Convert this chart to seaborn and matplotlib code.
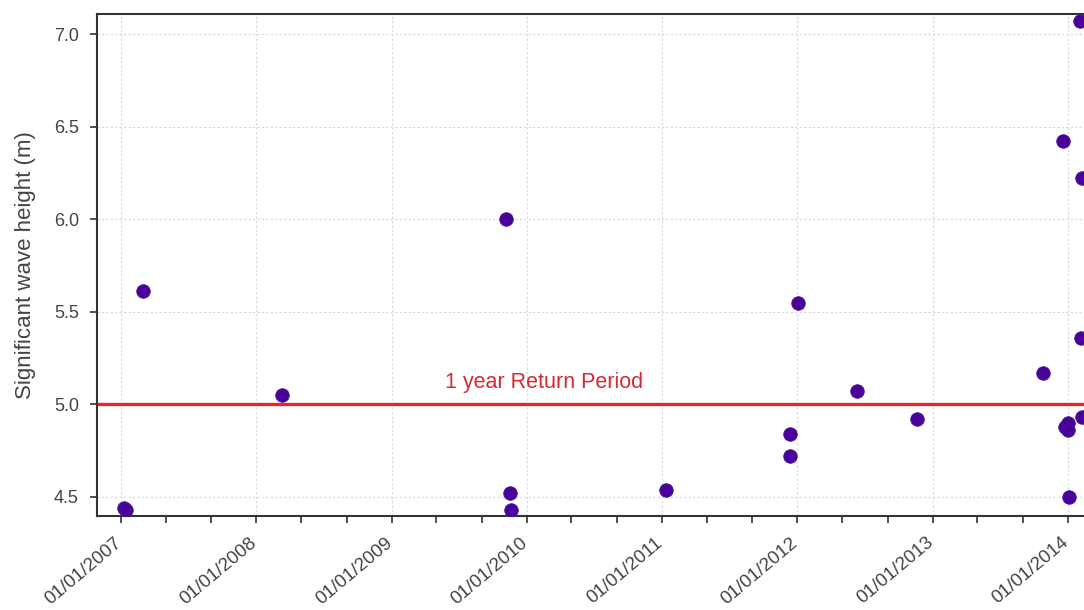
import matplotlib
matplotlib.use("Agg")
import matplotlib.pyplot as plt
import matplotlib.dates as mdates
import matplotlib.transforms as mtransforms
import seaborn as sns
import pandas as pd

dates = ["2007-01-08", "2007-01-14", "2007-03-01", "2008-03-10", "2009-11-06",
         "2009-11-17", "2009-11-18", "2011-01-10", "2011-12-12", "2011-12-13",
         "2012-01-02", "2012-06-09", "2012-11-20", "2013-10-25", "2013-12-17",
         "2013-12-24", "2014-01-01", "2014-01-02", "2014-01-04", "2014-02-02",
         "2014-02-07", "2014-02-06", "2014-02-07"]
heights = [4.44, 4.43, 5.61, 5.05, 6.00,
           4.52, 4.43, 4.54, 4.84, 4.72,
           5.55, 5.07, 4.92, 5.17, 6.42,
           4.88, 4.90, 4.86, 4.50, 7.07,
           6.22, 5.36, 4.93]
return_period_level = 5.0
return_period_label = "1 year Return Period"
y_ticks = [4.5, 5.0, 5.5, 6.0, 6.5, 7.0]

df = pd.DataFrame({"date": pd.to_datetime(dates), "hs": heights})

sns.set_style("white")
plt.rcParams["font.family"] = ["Liberation Sans", "DejaVu Sans"]

fig = plt.figure(figsize=(10.84, 6.10), dpi=100)
ax = fig.add_axes([0.0895, 0.154, 0.9105, 0.823])

ax.axhline(return_period_level, color="#e8252b", lw=2.4, zorder=2)
sns.scatterplot(data=df, x="date", y="hs", ax=ax, color="#4b0099",
                edgecolor="#3a1aa0", linewidth=0.6, s=95, zorder=3, legend=False)

ax.set_xlim(pd.Timestamp("2006-10-28"), pd.Timestamp("2014-02-13"))
ax.set_ylim(4.397, 7.108)
ax.set_yticks(y_ticks)
ax.yaxis.set_major_formatter(matplotlib.ticker.FormatStrFormatter("%.1f"))

ax.xaxis.set_major_locator(mdates.YearLocator())
ax.xaxis.set_minor_locator(mdates.MonthLocator(bymonth=[5, 9]))
ax.xaxis.set_major_formatter(mdates.DateFormatter("%d/%m/%Y"))

ax.grid(True, which="major", color="#d8d8d8", linestyle=(0, (2, 2)), lw=0.8)
ax.set_axisbelow(True)

for side in ["left", "bottom", "top"]:
    ax.spines[side].set_color("#333333")
    ax.spines[side].set_linewidth(1.5)
ax.spines["right"].set_visible(False)

ax.tick_params(axis="both", which="both", direction="out", length=5, width=1.2,
               color="#333333", labelcolor="#444444")
ax.tick_params(axis="y", left=True, labelsize=13, pad=8)
ax.tick_params(axis="x", which="major", bottom=True, labelsize=13.5, pad=8)
ax.tick_params(axis="x", which="minor", bottom=True)
shift = mtransforms.ScaledTranslation(-7 / 100, 0, fig.dpi_scale_trans)
for lbl in ax.get_xticklabels():
    lbl.set_rotation(40)
    lbl.set_ha("right")
    lbl.set_rotation_mode("anchor")
    lbl.set_fontweight("medium")
    lbl.set_transform(lbl.get_transform() + shift)

ax.set_xlabel("")
ax.set_ylabel("Significant wave height (m)", fontsize=16, color="#444444")
ax.yaxis.set_label_coords(-0.062, 0.5)

ax.text(pd.Timestamp("2010-02-15"), return_period_level + 0.06,
        return_period_label, color="#d42a34", fontsize=15.5, ha="center", va="bottom")

fig.savefig("out.png", dpi=100)
